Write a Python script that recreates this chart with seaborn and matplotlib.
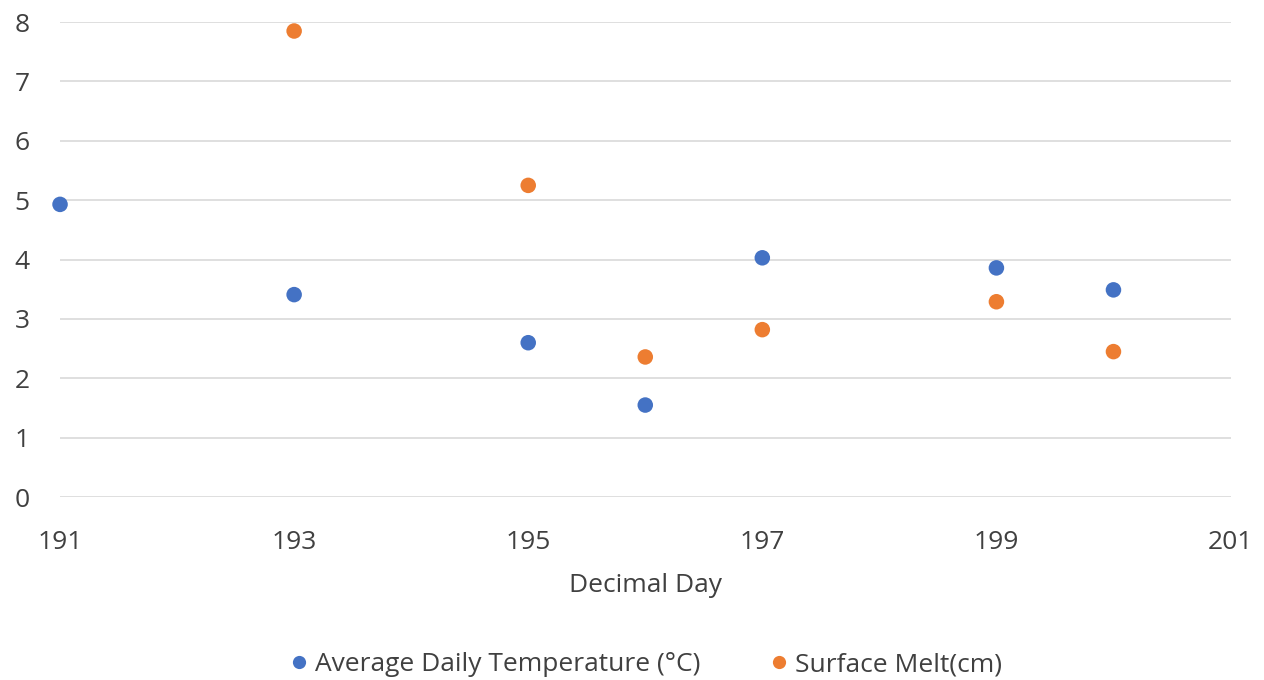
import matplotlib
matplotlib.use("Agg")
import matplotlib.pyplot as plt
import seaborn as sns
import pandas as pd

temp_days = [191, 193, 195, 196, 197, 199, 200]
temp_vals = [4.93, 3.41, 2.60, 1.55, 4.03, 3.86, 3.49]
melt_days = [193, 195, 196, 197, 199, 200]
melt_vals = [7.85, 5.25, 2.36, 2.82, 3.29, 2.45]
series_names = ["Average Daily Temperature (°C)", "Surface Melt(cm)"]
colors = ["#4472C4", "#ED7D31"]
x_ticks = [191, 193, 195, 197, 199, 201]
y_ticks = [0, 1, 2, 3, 4, 5, 6, 7, 8]

df = pd.concat([
    pd.DataFrame({"day": temp_days, "value": temp_vals, "series": series_names[0]}),
    pd.DataFrame({"day": melt_days, "value": melt_vals, "series": series_names[1]}),
])

sns.set_style("whitegrid")
plt.rcParams["font.family"] = ["Open Sans", "DejaVu Sans"]

fig = plt.figure(figsize=(12.64, 6.8), dpi=100)
ax = fig.add_axes([0.0475, 0.269, 0.926, 0.6985])

sns.scatterplot(data=df, x="day", y="value", hue="series", hue_order=series_names,
                palette=colors, s=125, edgecolor="none", ax=ax, clip_on=False, legend=True)

ax.set_xlim(191, 201)
ax.set_ylim(0, 8)
ax.set_xticks(x_ticks)
ax.set_yticks(y_ticks)
ax.grid(axis="x", visible=False)
ax.grid(axis="y", color="#d9d9d9", linewidth=1.2)
for s in ax.spines.values():
    s.set_visible(False)
ax.tick_params(axis="both", length=0, labelsize=19, colors="#404040")
ax.tick_params(axis="x", pad=24)
ax.tick_params(axis="y", pad=22)
ax.set_xlabel("Decimal Day", fontsize=19, color="#404040", labelpad=13)
ax.set_ylabel("")

handles, labels = ax.get_legend_handles_labels()
ax.legend(handles, labels, loc="center", bbox_to_anchor=(0.5, -0.353),
          ncol=2, frameon=False, fontsize=19, handletextpad=0.2, handlelength=0.8,
          columnspacing=2.6, markerscale=0.85, labelcolor="#404040")

fig.savefig("out.png", dpi=100)
